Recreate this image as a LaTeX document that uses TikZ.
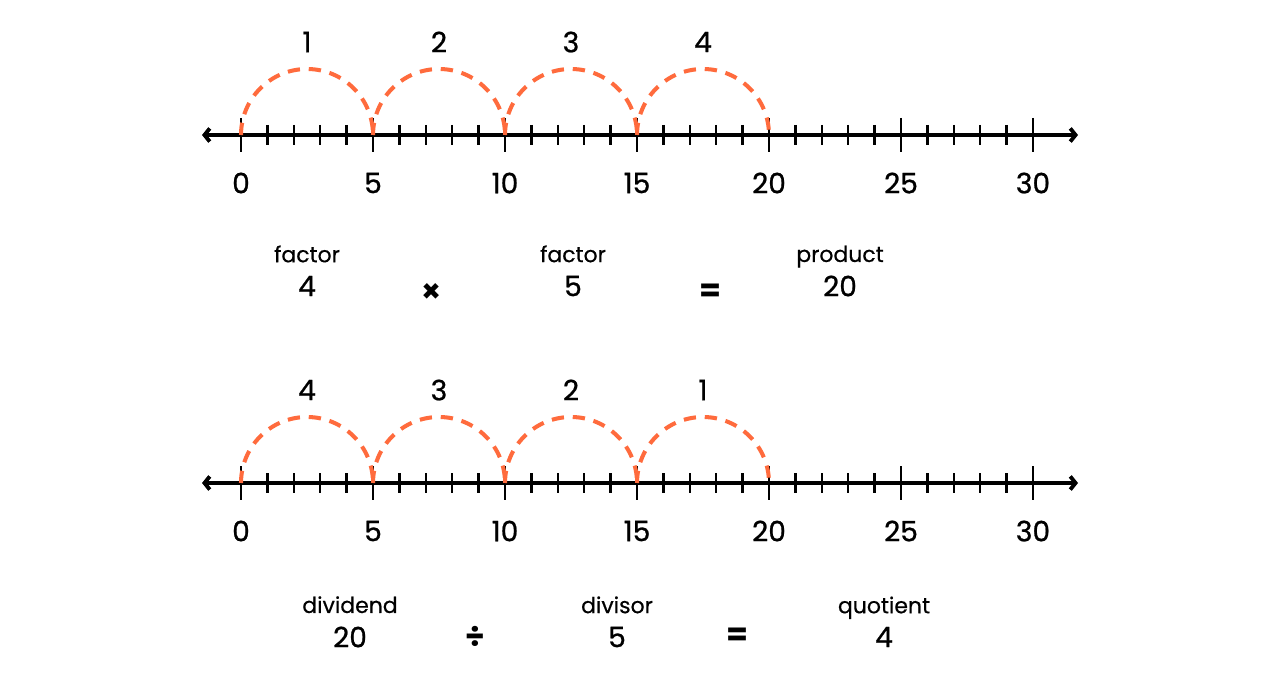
\documentclass[tikz,border=0pt]{standalone}
\usepackage{fontspec}
\setmainfont{Poppins}
\usepackage{tikz}
\usetikzlibrary{arrows.meta, positioning}
\definecolor{jumporange}{RGB}{255,107,61}

\begin{document}
\begin{tikzpicture}[x=0.02cm, y=0.02cm,
	num/.style={font=\fontsize{16}{19}\selectfont\addfontfeature{FakeBold=0.8}, inner sep=0pt, text depth=0pt},
	word/.style={font=\fontsize{12.5}{15}\selectfont\addfontfeature{FakeBold=0.5}, inner sep=0pt, text depth=0pt},
	sign/.style={font=\fontsize{18}{21}\selectfont\bfseries, inner sep=0pt},
	jump/.style={jumporange, line width=2.3pt, dash pattern=on 7pt off 5pt},
	numline/.style={line width=2.2pt, {Straight Barb[length=3pt, width=7.5pt, line width=2.2pt]}-{Straight Barb[length=3pt, width=7.5pt, line width=2.2pt]}},
	tick/.style={line width=1.4pt}]

\useasboundingbox (0,0) rectangle (1280,680);

\def \xzero{241}
\def \xstep{26.4}
\def \rad{66}

\foreach \ly/\nm/\rev in {545/up/0, 197/down/1} {
	\coordinate (\nm-left) at (202, \ly);
	\coordinate (\nm-right) at (1078, \ly);
	\draw[numline] (\nm-left) -- (\nm-right); % number line
	\foreach \t in {0, ..., 30} {
		\pgfmathsetmacro{\tx}{\xzero + \t * \xstep}
		\draw[tick] (\tx, \ly + 10) -- (\tx, \ly - 10); % small tick
	}
	\foreach \t in {0, 5, ..., 30} {
		\pgfmathsetmacro{\tx}{\xzero + \t * \xstep}
		\draw[tick] (\tx, \ly + 17) -- (\tx, \ly - 17); % big tick
		\node[num] (\nm-n\t) at (\tx, \ly - 48) {\t}; % tick label
	}
	\foreach \j in {1, 2, 3, 4} {
		\pgfmathsetmacro{\sx}{\xzero + (\j - 1) * 5 * \xstep}
		\pgfmathtruncatemacro{\lab}{\rev == 1 ? 5 - \j : \j}
		\draw[jump] (\sx, \ly) arc (180:0:\rad); % jump of five
		\node[num] (\nm-jump\j) at (\sx + \rad, \ly + 93) {\lab};
	}
}

% multiplication
\node[num] (fa) at (307, 394) {4};
\node[word, above=0.26cm of fa] (fa word) {factor};
\node[sign] (times) at (432, 387) {×};
\node[num] (fb) at (573, 394) {5};
\node[word, above=0.26cm of fb] (fb word) {factor};
\node[sign] (eq up) at (710, 387) {=};
\node[num] (prod) at (840, 394) {20};
\node[word, above=0.26cm of prod] (prod word) {product};

% division
\node[num] (dvd) at (350, 43) {20};
\node[word, above=0.26cm of dvd] (dvd word) {dividend};
\node[sign] (div) at (475, 43) {÷};
\node[num] (dvs) at (617, 43) {5};
\node[word, above=0.26cm of dvs] (dvs word) {divisor};
\node[sign] (eq down) at (737, 43) {=};
\node[num] (quot) at (884, 43) {4};
\node[word, above=0.26cm of quot] (quot word) {quotient};

\end{tikzpicture}
\end{document}
